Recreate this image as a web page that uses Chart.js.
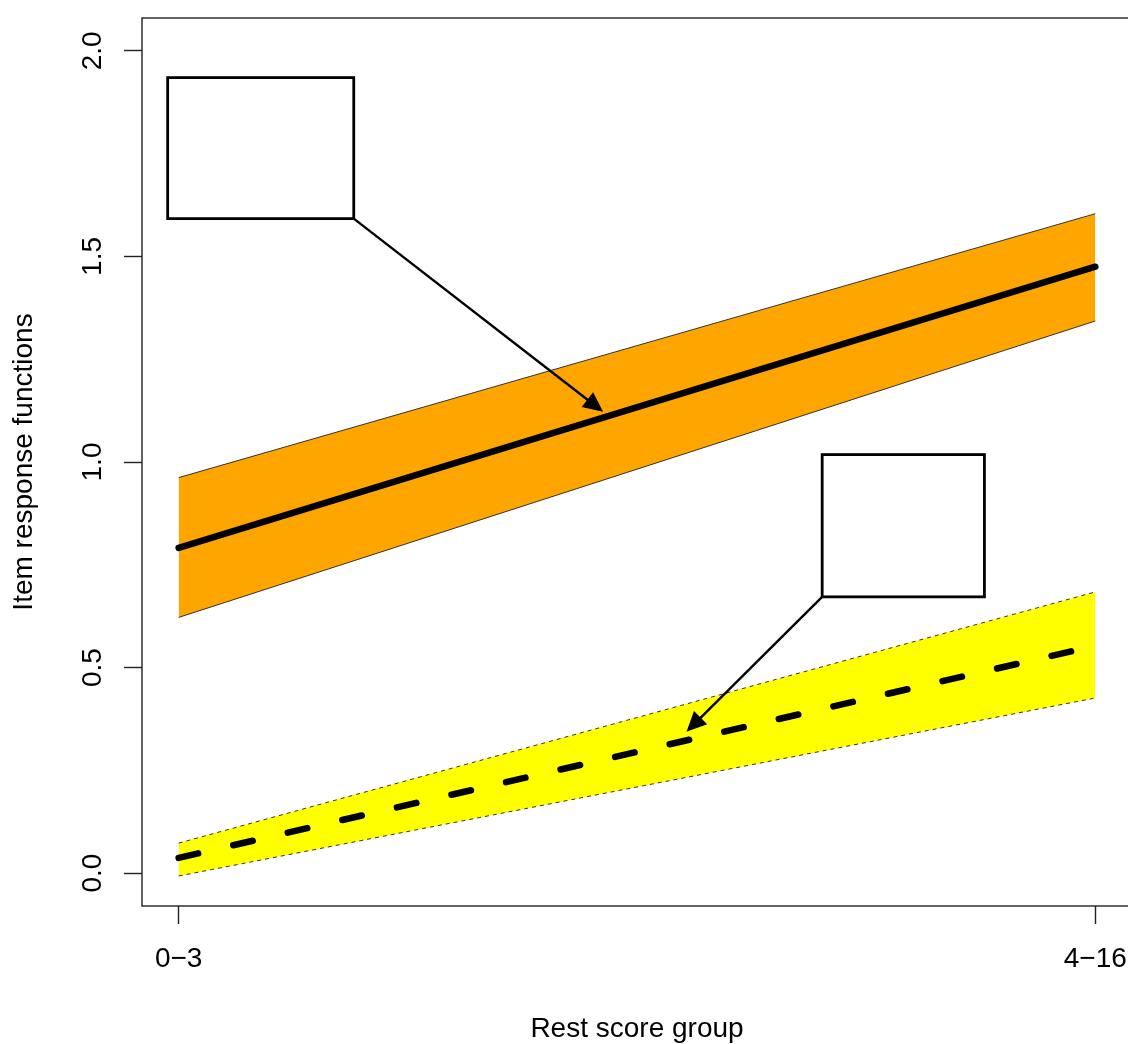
<!DOCTYPE html>
<html>
<head>
<meta charset="utf-8">
<script src="https://cdn.jsdelivr.net/npm/chart.js@4.4.0/dist/chart.umd.min.js"></script>
<style>
  html, body { margin: 0; padding: 0; background: #fff; overflow: hidden; }
  #wrap { width: 1140px; height: 1044px; }
</style>
</head>
<body>
<div id="wrap"><canvas id="chart"></canvas></div>
<script>
const categories = ['0\u22123', '4\u221216'];
const irfHigh = [0.791, 1.475];
const irfHighUpper = [0.962, 1.604];
const irfHighLower = [0.622, 1.343];
const irfLow = [0.037, 0.553];
const irfLowUpper = [0.073, 0.684];
const irfLowLower = [-0.007, 0.426];
const yTicks = [0, 0.5, 1, 1.5, 2];

// empty label boxes and their arrows, in data units
const noteBoxes = [
  {x1: 0.988, x2: 1.191, y1: 1.592, y2: 1.935},
  {x1: 1.702, x2: 1.879, y1: 0.672, y2: 1.018},
];
const noteArrows = [
  {from: [1.191, 1.592], to: [1.463, 1.122]},
  {from: [1.702, 0.672], to: [1.554, 0.344]},
];

const pts = vals => vals.map((v, i) => ({x: i + 1, y: v}));
const line = (vals, extra) => Object.assign({
  data: pts(vals), pointRadius: 0, tension: 0, fill: false
}, extra);

const font = {family: '"Liberation Sans", Arial, sans-serif', size: 28, lineHeight: 1};

const frameAndNotes = {
  id: 'frameAndNotes',
  beforeDatasetsDraw(chart) {
    const {ctx, chartArea: a} = chart;
    ctx.save();
    ctx.strokeStyle = '#222';
    ctx.lineWidth = 1.4;
    ctx.strokeRect(a.left, a.top, a.right - a.left, a.bottom - a.top);
    ctx.restore();
  },
  afterDatasetsDraw(chart) {
    const {ctx, scales: {x, y}} = chart;
    ctx.save();
    ctx.strokeStyle = '#000';
    ctx.fillStyle = '#000';
    ctx.lineWidth = 2.8;
    noteBoxes.forEach(b => {
      const l = x.getPixelForValue(b.x1), r = x.getPixelForValue(b.x2);
      const t = y.getPixelForValue(b.y2), btm = y.getPixelForValue(b.y1);
      ctx.strokeRect(l, t, r - l, btm - t);
    });
    ctx.lineWidth = 2.4;
    noteArrows.forEach(a => {
      const x0 = x.getPixelForValue(a.from[0]), y0 = y.getPixelForValue(a.from[1]);
      const x1 = x.getPixelForValue(a.to[0]), y1 = y.getPixelForValue(a.to[1]);
      const ang = Math.atan2(y1 - y0, x1 - x0);
      const head = 22, spread = 0.44;
      ctx.beginPath();
      ctx.moveTo(x0, y0);
      ctx.lineTo(x1 - head * 0.8 * Math.cos(ang), y1 - head * 0.8 * Math.sin(ang));
      ctx.stroke();
      ctx.beginPath();
      ctx.moveTo(x1, y1);
      ctx.lineTo(x1 - head * Math.cos(ang - spread), y1 - head * Math.sin(ang - spread));
      ctx.lineTo(x1 - head * Math.cos(ang + spread), y1 - head * Math.sin(ang + spread));
      ctx.closePath();
      ctx.fill();
    });
    ctx.restore();
  }
};

const zeroPad = s => { s.paddingTop = s.paddingBottom = s.paddingLeft = s.paddingRight = 0; };

new Chart(document.getElementById('chart'), {
  type: 'line',
  data: {
    datasets: [
      line(irfHigh, {borderColor: '#000', borderWidth: 6.5, borderCapStyle: 'round'}),
      line(irfLow, {borderColor: '#000', borderWidth: 6.5, borderCapStyle: 'round', borderDash: [20, 36]}),
      line(irfHighUpper, {borderColor: '#333', borderWidth: 1}),
      line(irfHighLower, {borderColor: '#333', borderWidth: 1, fill: '-1', backgroundColor: '#FFA500'}),
      line(irfLowUpper, {borderColor: '#333', borderWidth: 1, borderDash: [4, 4]}),
      line(irfLowLower, {borderColor: '#333', borderWidth: 1, borderDash: [4, 4], fill: '-1', backgroundColor: '#FFFF00'}),
    ]
  },
  options: {
    responsive: true,
    maintainAspectRatio: false,
    animation: false,
    devicePixelRatio: 1,
    layout: {padding: {top: 18, right: 8, left: 0, bottom: 0}},
    plugins: {legend: {display: false}, tooltip: {enabled: false}},
    scales: {
      x: {
        type: 'linear',
        min: 0.96,
        max: 2.04,
        afterBuildTicks: s => { s.ticks = categories.map((_, i) => ({value: i + 1})); },
        afterFit: s => { s.height = 138; zeroPad(s); },
        border: {display: false},
        grid: {drawOnChartArea: false, drawTicks: true, tickLength: 18, tickColor: '#222', tickWidth: 1.4},
        ticks: {
          autoSkip: false, maxRotation: 0, padding: 21, color: '#000', font,
          callback: (v, i) => categories[i]
        },
        title: {display: true, text: 'Rest score group', color: '#000', font, padding: {top: 0, bottom: 1}}
      },
      y: {
        min: -0.08,
        max: 2.08,
        afterBuildTicks: s => { s.ticks = yTicks.map(v => ({value: v})); },
        afterFit: s => { s.width = 142; zeroPad(s); },
        border: {display: false},
        grid: {drawOnChartArea: false, drawTicks: true, tickLength: 18, tickColor: '#222', tickWidth: 1.4},
        ticks: {
          autoSkip: false, minRotation: 90, maxRotation: 90, crossAlign: 'center', padding: 11,
          color: '#000', font,
          callback: v => v.toFixed(1)
        },
        title: {display: true, text: 'Item response functions', color: '#000', font, padding: {top: 10, bottom: 0}}
      }
    }
  },
  plugins: [frameAndNotes]
});
</script>
</body>
</html>
